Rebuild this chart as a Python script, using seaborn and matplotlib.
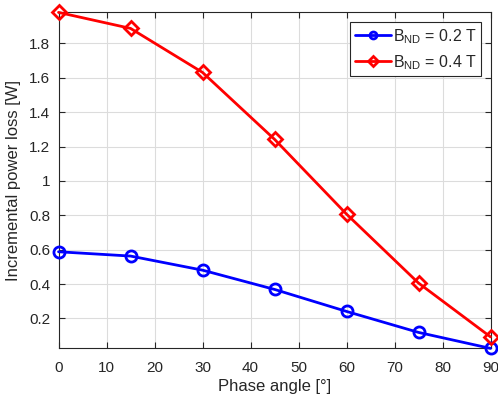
import matplotlib
matplotlib.use("Agg")
import matplotlib.pyplot as plt
import seaborn as sns
import pandas as pd

phase_angle = [0, 15, 30, 45, 60, 75, 90]
loss_02 = [0.588, 0.563, 0.481, 0.369, 0.241, 0.119, 0.026]
loss_04 = [1.980, 1.887, 1.631, 1.242, 0.807, 0.406, 0.093]
series_labels = ["B$_{\\mathrm{ND}}$ = 0.2 T", "B$_{\\mathrm{ND}}$ = 0.4 T"]
series_colors = ["#0000ff", "#ff0000"]
series_markers = ["o", "D"]
x_ticks = [0, 10, 20, 30, 40, 50, 60, 70, 80, 90]
y_ticks = [0.2, 0.4, 0.6, 0.8, 1.0, 1.2, 1.4, 1.6, 1.8]

df = pd.DataFrame({
    "angle": phase_angle * 2,
    "loss": loss_02 + loss_04,
    "series": [series_labels[0]] * len(phase_angle) + [series_labels[1]] * len(phase_angle),
})

sns.set_theme(style="whitegrid")
plt.rcParams["font.family"] = ["Liberation Sans", "DejaVu Sans"]
plt.rcParams["mathtext.fontset"] = "custom"
plt.rcParams["mathtext.rm"] = "Liberation Sans"

fig = plt.figure(figsize=(4.98, 4.0), dpi=100)
ax = fig.add_axes([0.1175, 0.129, 0.8675, 0.840])

sns.lineplot(
    data=df, x="angle", y="loss", hue="series", style="series",
    palette=dict(zip(series_labels, series_colors)),
    markers=dict(zip(series_labels, series_markers)),
    dashes=False, linewidth=2, markersize=8, ax=ax, legend=True,
)
for line, col, mk in zip(ax.lines, series_colors, series_markers):
    line.set_markerfacecolor("none")
    line.set_markeredgecolor(col)
    line.set_markeredgewidth(2)
    line.set_markersize(8 if mk == "o" else 7)
    line.set_clip_on(False)
    line.set_zorder(5)

ax.set_xlim(0, 90)
ax.set_ylim(min(loss_02), max(loss_04))
ax.set_xticks(x_ticks)
ax.set_yticks(y_ticks)
ax.set_yticklabels(["0.2", "0.4", "0.6", "0.8", "1", "1.2", "1.4", "1.6", "1.8"])

ax.set_facecolor("white")
ax.grid(True, color="#dcdcdc", linewidth=0.8)
for side in ["left", "right", "top", "bottom"]:
    ax.spines[side].set_visible(True)
    ax.spines[side].set_color("#262626")
    ax.spines[side].set_linewidth(0.8)
ax.tick_params(axis="both", which="both", direction="in", length=4, width=0.8,
               color="#262626", labelsize=11, labelcolor="#262626",
               top=True, right=True, bottom=True, left=True)
ax.tick_params(axis="x", pad=9)
ax.tick_params(axis="y", pad=6)

ax.set_xlabel("Phase angle [°]", fontsize=12, color="#262626", labelpad=3)
ax.set_ylabel("Incremental power loss [W]", fontsize=12, color="#262626", labelpad=6)

handles, labels = ax.get_legend_handles_labels()
leg = ax.legend(handles, labels, loc="upper right", fontsize=11.5, frameon=True,
                fancybox=False, edgecolor="#262626", framealpha=1,
                borderpad=0.3, borderaxespad=0, handlelength=2.3,
                handletextpad=0.1, labelspacing=0.45,
                bbox_to_anchor=(0.979, 0.971))
leg.get_frame().set_linewidth(0.8)
for h, col in zip(leg.legend_handles, series_colors):
    h.set_linestyle("-")
    h.set_linewidth(2)
    h.set_markerfacecolor("none")
    h.set_markeredgecolor(col)
    h.set_markeredgewidth(2)
    h.set_markersize(5)

fig.savefig("out.png", dpi=100)
